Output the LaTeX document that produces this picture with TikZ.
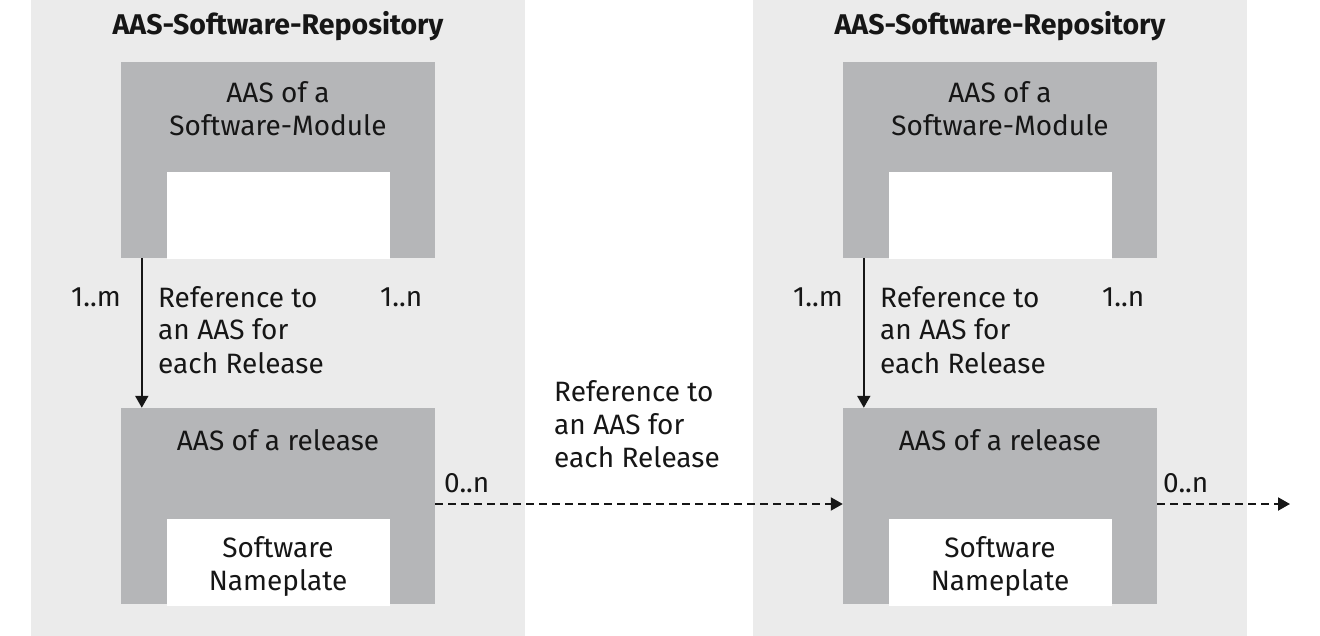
\documentclass[tikz,border=0pt]{standalone}
\usepackage{fontspec}
\setmainfont{Fira Sans}
\usetikzlibrary{arrows.meta}
\definecolor{panelgray}{HTML}{EBEBEB}
\definecolor{boxgray}{HTML}{B5B6B8}
\definecolor{ink}{HTML}{161616}
\begin{document}
\begin{tikzpicture}[x=1pt,y=-1pt,
  panel/.style={fill=panelgray,draw=none,inner sep=0pt,minimum width=494pt,minimum height=640pt},
  gbox/.style={fill=boxgray,draw=none,inner sep=0pt,minimum width=314pt,minimum height=196pt},
  wbox/.style={fill=white,draw=none,inner sep=0pt,minimum width=223pt,minimum height=87pt},
  lbl/.style={text=ink,inner sep=0pt,font=\fontsize{28}{33}\selectfont,anchor=base},
  ttl/.style={text=ink,inner sep=0pt,font=\fontsize{28.5}{33}\selectfont\bfseries,anchor=base},
  arr/.style={draw=ink,line width=2pt,-{Triangle[length=12pt,width=13pt]}},
  darr/.style={arr,dash pattern=on 8pt off 5pt}]
\useasboundingbox (0,0) rectangle (1320,636);
% panels
\node[panel] (P1) at (278,318) {};
\node[panel] (P2) at (1000,318) {};
% left repository
\node[gbox] (M1) at (278,160) {};
\node[wbox] (MW1) at (278,215.5) {};
\node[gbox] (R1) at (278,506) {};
\node[wbox] (RW1) at (278,562.5) {};
% right repository
\node[gbox] (M2) at (1000,160) {};
\node[wbox] (MW2) at (1000,215.5) {};
\node[gbox] (R2) at (1000,506) {};
\node[wbox] (RW2) at (1000,562.5) {};
% titles
\node[ttl] (T1) at (278,35) {AAS-Software-Repository};
\node[ttl] (T2) at (1000,35) {AAS-Software-Repository};
% box texts (base anchor = last line baseline)
\node[lbl,align=center] (MT1) at (278,136) {AAS of a\\Software-Module};
\node[lbl,align=center] (MT2) at (1000,136) {AAS of a\\Software-Module};
\node[lbl] (RT1) at (278,450) {AAS of a release};
\node[lbl] (RT2) at (1000,450) {AAS of a release};
\node[lbl,align=center] (NT1) at (278,590) {Software\\Nameplate};
\node[lbl,align=center] (NT2) at (1000,590) {Software\\Nameplate};
% multiplicities
\node[lbl,anchor=base east] (m1) at (121,307) {1..m};
\node[lbl,anchor=base west] (n1) at (380,307) {1..n};
\node[lbl,anchor=base east] (m2) at (843,307) {1..m};
\node[lbl,anchor=base west] (n2) at (1102,307) {1..n};
\node[lbl,anchor=base west] (z1) at (444,492) {0..n};
\node[lbl,anchor=base west] (z2) at (1163,492) {0..n};
% reference labels
\node[lbl,anchor=base west,align=left] (L1) at (158,373) {Reference to\\an AAS for\\each Release};
\node[lbl,anchor=base west,align=left] (L2) at (880,373) {Reference to\\an AAS for\\each Release};
\node[lbl,anchor=base west,align=left] (L3) at (554,467) {Reference to\\an AAS for\\each Release};
% connectors
\coordinate (end) at (1290,504);
\draw[arr] ([xshift=21pt]M1.south west) -- ([xshift=21pt]R1.north west);
\draw[arr] ([xshift=21pt]M2.south west) -- ([xshift=21pt]R2.north west);
\draw[darr] ([yshift=2pt]R1.east) -- ([yshift=2pt]R2.west);
\draw[darr] ([yshift=2pt]R2.east) -- (end);
\end{tikzpicture}
\end{document}
